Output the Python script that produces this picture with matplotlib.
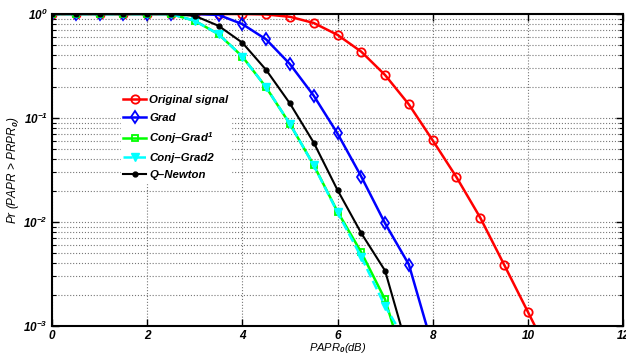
import numpy as np
import matplotlib
matplotlib.use('Agg')
import matplotlib.pyplot as plt
from matplotlib.ticker import FixedLocator, FixedFormatter, LogLocator, NullFormatter

plt.rcParams['font.family'] = ['Liberation Sans', 'DejaVu Sans']
plt.rcParams['font.weight'] = 'bold'
plt.rcParams['font.style'] = 'italic'
plt.rcParams['mathtext.fontset'] = 'custom'
plt.rcParams['mathtext.rm'] = 'Liberation Sans:bold:italic'
plt.rcParams['mathtext.it'] = 'Liberation Sans:bold:italic'
plt.rcParams['mathtext.bf'] = 'Liberation Sans:bold:italic'
plt.rcParams['mathtext.default'] = 'rm'

# PAPR0 in dB, 0.5 dB steps
x_orig = [0, 0.5, 1, 1.5, 2, 2.5, 3, 3.5, 4, 4.5, 5, 5.5, 6, 6.5, 7, 7.5, 8, 8.5, 9, 9.5, 10, 10.5]
y_orig = [1, 1, 1, 1, 1, 1, 1, 1, 1, 0.99, 0.94, 0.82, 0.63, 0.434, 0.259, 0.135, 0.061, 0.027,
          0.011, 0.0039, 0.00137, 0.00048]

x_grad = [0, 0.5, 1, 1.5, 2, 2.5, 3, 3.5, 4, 4.5, 5, 5.5, 6, 6.5, 7, 7.5, 8]
y_grad = [1, 1, 1, 1, 1, 1, 1, 0.98, 0.80, 0.57, 0.33, 0.164, 0.071, 0.0273, 0.0097, 0.0039, 0.00063]

x_cg = [0, 0.5, 1, 1.5, 2, 2.5, 3, 3.5, 4, 4.5, 5, 5.5, 6, 6.5, 7, 7.5]
y_cg1 = [1, 1, 1, 1, 1, 1, 0.86, 0.64, 0.39, 0.197, 0.0875, 0.0353, 0.0126, 0.0051, 0.0018, 0.00032]
y_cg2 = [1, 1, 1, 1, 1, 1, 0.86, 0.64, 0.39, 0.197, 0.088, 0.035, 0.0124, 0.0046, 0.00155, 0.00064]

x_qn = [0, 0.5, 1, 1.5, 2, 2.5, 3, 3.5, 4, 4.5, 5, 5.5, 6, 6.5, 7, 7.5]
y_qn = [1, 1, 1, 1, 1, 1, 0.96, 0.77, 0.53, 0.29, 0.138, 0.058, 0.0203, 0.0078, 0.0034, 0.00054]

xticks = [0, 2, 4, 6, 8, 10, 12]
yticks = [1e-3, 1e-2, 1e-1, 1]
ytick_labels = [r'$10^{-3}$', r'$10^{-2}$', r'$10^{-1}$', r'$10^{0}$']

fig = plt.figure(figsize=(6.26, 3.56), dpi=100)
ax = fig.add_axes([52/626, 30/356, 571/626, 312/356])

ax.semilogy(x_orig, y_orig, color='r', ls='-', marker='o', lw=1.8, ms=6, mfc='none', mew=1.3,
            label='Original signal')
ax.semilogy(x_grad, y_grad, color='b', ls='-', marker='d', lw=1.8, ms=6, mfc='none', mew=1.3,
            label='Grad')
ax.semilogy(x_cg, y_cg1, color='#00ff00', ls='-', marker='s', lw=1.8, ms=5, mfc='none', mew=1.3,
            label=r'Conj–Grad$^1$')
ax.semilogy(x_cg, y_cg2, color='#00ffff', ls='--', marker='v', lw=1.8, ms=6, mfc='#00ffff',
            label='Conj–Grad2')
ax.semilogy(x_qn, y_qn, color='k', ls='-', marker='.', lw=1.5, ms=7, label='Q–Newton')

ax.set_xlim(0, 12)
ax.set_ylim(1e-3, 1)
ax.xaxis.set_major_locator(FixedLocator(xticks))
ax.yaxis.set_major_locator(FixedLocator(yticks))
ax.yaxis.set_major_formatter(FixedFormatter(ytick_labels))
ax.yaxis.set_minor_locator(LogLocator(base=10, subs=np.arange(2, 10)))
ax.yaxis.set_minor_formatter(NullFormatter())

ax.tick_params(which='both', direction='in', top=True, right=True, labelsize=8.5, pad=3)
ax.tick_params(which='major', length=5, width=1)
ax.tick_params(which='minor', length=3, width=0.8)

ax.grid(True, which='major', ls=':', color='#777777', lw=0.8)
ax.grid(True, which='minor', ls=':', color='#777777', lw=0.8)
for s in ax.spines.values():
    s.set_linewidth(1.5)

ax.set_xlabel(r'PAPR$_0$(dB)', fontsize=8, labelpad=-1)
ax.set_ylabel(r'Pr (PAPR > PRPR$_0$)', fontsize=8.5, labelpad=2)

leg = ax.legend(loc='upper left', bbox_to_anchor=(121/626, 1 - 93/356), bbox_transform=fig.transFigure,
                frameon=True, fontsize=8.2, handlelength=2.0, handletextpad=0.3, labelspacing=0.64,
                borderaxespad=0, borderpad=0.2)
leg.get_frame().set_edgecolor('white')
leg.get_frame().set_facecolor('white')
leg.get_frame().set_alpha(1)
leg.get_frame().set_boxstyle('square', pad=0)

fig.savefig('out.png', dpi=100)
